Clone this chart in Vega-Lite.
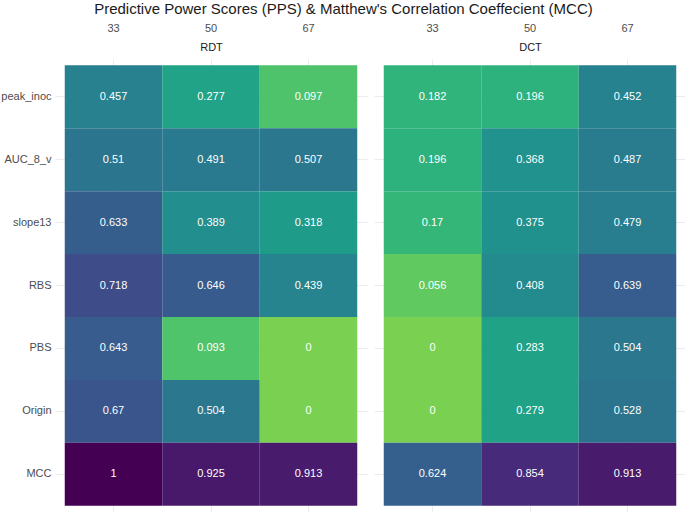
{
  "$schema": "https://vega.github.io/schema/vega-lite/v6.json",
  "padding": {"left": 0, "top": 2, "right": 0, "bottom": 0},
  "title": {"text": "Predictive Power Scores (PPS) & Matthew's Correlation Coeffecient (MCC)", "fontSize": 15, "font": "Liberation Sans", "fontWeight": "normal", "color": "#1A1A1A", "anchor": "middle", "offset": 5},
  "config": {
    "view": {"stroke": null},
    "font": "Liberation Sans",
    "axis": {"domain": false, "ticks": false, "grid": true, "gridColor": "#EBEBEB", "gridWidth": 1, "labelColor": "#4D4D4D", "labelFontSize": 11, "labelFont": "Liberation Sans", "bandPosition": 0.5, "zindex": 0}
  },
  "data": {"values": [
    {"method": "RDT", "feature": "peak_inoc", "threshold": 33, "value": 0.457},
    {"method": "RDT", "feature": "peak_inoc", "threshold": 50, "value": 0.277},
    {"method": "RDT", "feature": "peak_inoc", "threshold": 67, "value": 0.097},
    {"method": "RDT", "feature": "AUC_8_v", "threshold": 33, "value": 0.51},
    {"method": "RDT", "feature": "AUC_8_v", "threshold": 50, "value": 0.491},
    {"method": "RDT", "feature": "AUC_8_v", "threshold": 67, "value": 0.507},
    {"method": "RDT", "feature": "slope13", "threshold": 33, "value": 0.633},
    {"method": "RDT", "feature": "slope13", "threshold": 50, "value": 0.389},
    {"method": "RDT", "feature": "slope13", "threshold": 67, "value": 0.318},
    {"method": "RDT", "feature": "RBS", "threshold": 33, "value": 0.718},
    {"method": "RDT", "feature": "RBS", "threshold": 50, "value": 0.646},
    {"method": "RDT", "feature": "RBS", "threshold": 67, "value": 0.439},
    {"method": "RDT", "feature": "PBS", "threshold": 33, "value": 0.643},
    {"method": "RDT", "feature": "PBS", "threshold": 50, "value": 0.093},
    {"method": "RDT", "feature": "PBS", "threshold": 67, "value": 0},
    {"method": "RDT", "feature": "Origin", "threshold": 33, "value": 0.67},
    {"method": "RDT", "feature": "Origin", "threshold": 50, "value": 0.504},
    {"method": "RDT", "feature": "Origin", "threshold": 67, "value": 0},
    {"method": "RDT", "feature": "MCC", "threshold": 33, "value": 1},
    {"method": "RDT", "feature": "MCC", "threshold": 50, "value": 0.925},
    {"method": "RDT", "feature": "MCC", "threshold": 67, "value": 0.913},
    {"method": "DCT", "feature": "peak_inoc", "threshold": 33, "value": 0.182},
    {"method": "DCT", "feature": "peak_inoc", "threshold": 50, "value": 0.196},
    {"method": "DCT", "feature": "peak_inoc", "threshold": 67, "value": 0.452},
    {"method": "DCT", "feature": "AUC_8_v", "threshold": 33, "value": 0.196},
    {"method": "DCT", "feature": "AUC_8_v", "threshold": 50, "value": 0.368},
    {"method": "DCT", "feature": "AUC_8_v", "threshold": 67, "value": 0.487},
    {"method": "DCT", "feature": "slope13", "threshold": 33, "value": 0.17},
    {"method": "DCT", "feature": "slope13", "threshold": 50, "value": 0.375},
    {"method": "DCT", "feature": "slope13", "threshold": 67, "value": 0.479},
    {"method": "DCT", "feature": "RBS", "threshold": 33, "value": 0.056},
    {"method": "DCT", "feature": "RBS", "threshold": 50, "value": 0.408},
    {"method": "DCT", "feature": "RBS", "threshold": 67, "value": 0.639},
    {"method": "DCT", "feature": "PBS", "threshold": 33, "value": 0},
    {"method": "DCT", "feature": "PBS", "threshold": 50, "value": 0.283},
    {"method": "DCT", "feature": "PBS", "threshold": 67, "value": 0.504},
    {"method": "DCT", "feature": "Origin", "threshold": 33, "value": 0},
    {"method": "DCT", "feature": "Origin", "threshold": 50, "value": 0.279},
    {"method": "DCT", "feature": "Origin", "threshold": 67, "value": 0.528},
    {"method": "DCT", "feature": "MCC", "threshold": 33, "value": 0.624},
    {"method": "DCT", "feature": "MCC", "threshold": 50, "value": 0.854},
    {"method": "DCT", "feature": "MCC", "threshold": 67, "value": 0.913}
  ]},
  "spacing": 7,
  "hconcat": [
    {
      "transform": [{"filter": "datum.method === 'RDT'"}],
      "width": 312,
      "height": 453,
      "encoding": {
        "x": {"field": "threshold", "type": "ordinal", "scale": {"paddingInner": 0, "paddingOuter": 0.1}, "axis": {"orient": "top", "title": "RDT", "titleFontSize": 11, "titleFontWeight": "normal", "titleColor": "#1A1A1A", "titleY": -12, "titleBaseline": "middle", "labelPadding": 26, "labelAngle": 0}},
        "y": {"field": "feature", "type": "nominal", "sort": ["peak_inoc", "AUC_8_v", "slope13", "RBS", "PBS", "Origin", "MCC"], "scale": {"paddingInner": 0, "paddingOuter": 0.1}, "axis": {"title": null, "labelPadding": 4}}
      },
      "layer": [
        {"mark": {"type": "rect"}, "encoding": {"color": {"field": "value", "type": "quantitative", "scale": {"scheme": {"name": "viridis", "extent": [0.8, 0]}, "domain": [0, 1]}, "legend": null}}},
        {"mark": {"type": "text", "color": "white", "fontSize": 11, "font": "Liberation Sans"}, "encoding": {"text": {"field": "value", "type": "nominal"}}}
      ]
    },
    {
      "transform": [{"filter": "datum.method === 'DCT'"}],
      "width": 312,
      "height": 453,
      "encoding": {
        "x": {"field": "threshold", "type": "ordinal", "scale": {"paddingInner": 0, "paddingOuter": 0.1}, "axis": {"orient": "top", "title": "DCT", "titleFontSize": 11, "titleFontWeight": "normal", "titleColor": "#1A1A1A", "titleY": -12, "titleBaseline": "middle", "labelPadding": 26, "labelAngle": 0}},
        "y": {"field": "feature", "type": "nominal", "sort": ["peak_inoc", "AUC_8_v", "slope13", "RBS", "PBS", "Origin", "MCC"], "scale": {"paddingInner": 0, "paddingOuter": 0.1}, "axis": {"title": null, "labels": false}}
      },
      "layer": [
        {"mark": {"type": "rect"}, "encoding": {"color": {"field": "value", "type": "quantitative", "scale": {"scheme": {"name": "viridis", "extent": [0.8, 0]}, "domain": [0, 1]}, "legend": null}}},
        {"mark": {"type": "text", "color": "white", "fontSize": 11, "font": "Liberation Sans"}, "encoding": {"text": {"field": "value", "type": "nominal"}}}
      ]
    }
  ]
}
